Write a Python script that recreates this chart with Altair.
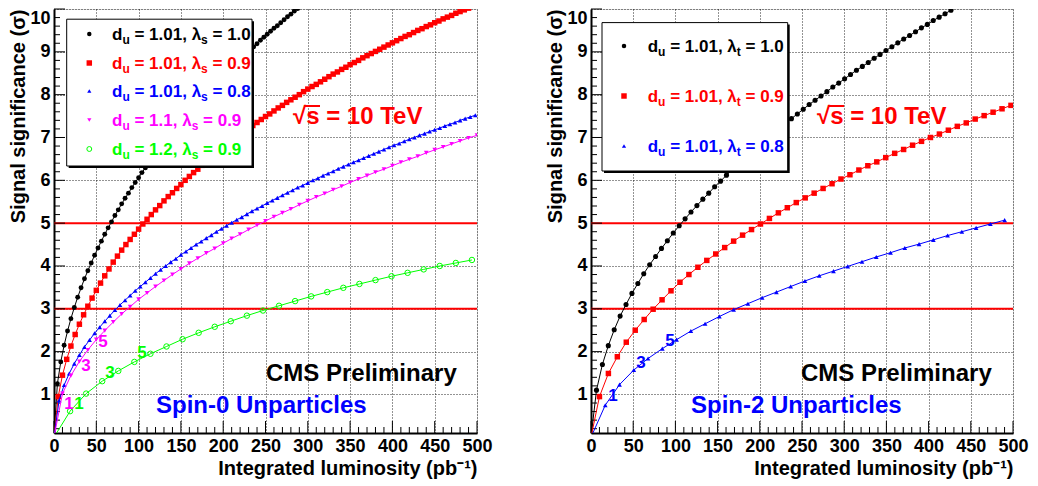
import altair as alt
import pandas as pd

FONT = "Liberation Sans"
BLACK, RED, BLUE, MAGENTA, GREEN = "#000000", "#ff0000", "#0000ff", "#ff00ff", "#00ff00"

# ---------------- Spin-0 panel (left) ----------------
L0_black = [4, 8, 12, 16, 20, 24, 28, 32, 36, 40, 44, 48, 52, 56, 60, 64, 68, 72, 76, 80,
            84, 88, 92, 96, 100, 104, 108, 112, 116, 120, 124, 128, 132, 136, 140, 144, 148, 152, 156, 160,
            164, 168, 172, 176, 180, 184, 188, 192, 196, 200, 204, 208, 212, 216, 220, 224, 228, 232, 236, 240,
            244, 248, 252, 256, 260, 264, 268, 272, 276, 280, 284, 288]
S0_black = [1.25, 1.76, 2.15, 2.48, 2.77, 3.03, 3.27, 3.49, 3.70, 3.89,
            4.07, 4.25, 4.42, 4.58, 4.74, 4.89, 5.03, 5.18, 5.31, 5.45,
            5.58, 5.70, 5.83, 5.95, 6.06, 6.18, 6.29, 6.40, 6.51, 6.62,
            6.72, 6.83, 6.93, 7.03, 7.12, 7.22, 7.32, 7.41, 7.50, 7.59,
            7.68, 7.77, 7.86, 7.94, 8.03, 8.11, 8.19, 8.28, 8.36, 8.44,
            8.52, 8.60, 8.67, 8.75, 8.83, 8.90, 8.98, 9.05, 9.12, 9.19,
            9.27, 9.34, 9.41, 9.48, 9.55, 9.61, 9.68, 9.75, 9.82, 9.88,
            9.95, 10.01]

L0_red = [5, 10, 15, 20, 25, 30, 35, 40, 45, 50, 55, 60, 65, 70, 75, 80, 85, 90, 95, 100,
          105, 110, 115, 120, 125, 130, 135, 140, 145, 150, 155, 160, 165, 170, 175, 180, 185, 190, 195, 200,
          205, 210, 215, 220, 225, 230, 235, 240, 245, 250, 255, 260, 265, 270, 275, 280, 285, 290, 295, 300,
          305, 310, 315, 320, 325, 330, 335, 340, 345, 350, 355, 360, 365, 370, 375, 380, 385, 390, 395, 400,
          405, 410, 415, 420, 425, 430, 435, 440, 445, 450, 455, 460, 465, 470, 475, 480, 485, 490]
S0_red = [0.95, 1.45, 1.82, 2.13, 2.40, 2.64, 2.86, 3.06, 3.25, 3.43,
          3.60, 3.77, 3.93, 4.09, 4.23, 4.37, 4.50, 4.62, 4.74, 4.86,
          4.98, 5.09, 5.20, 5.31, 5.41, 5.52, 5.62, 5.71, 5.81, 5.90,
          6.00, 6.09, 6.18, 6.26, 6.35, 6.43, 6.52, 6.60, 6.68, 6.76,
          6.83, 6.91, 6.99, 7.06, 7.13, 7.21, 7.28, 7.35, 7.42, 7.49,
          7.55, 7.62, 7.69, 7.75, 7.82, 7.88, 7.94, 8.00, 8.07, 8.13,
          8.19, 8.24, 8.30, 8.36, 8.42, 8.48, 8.53, 8.59, 8.64, 8.70,
          8.75, 8.80, 8.86, 8.91, 8.96, 9.01, 9.06, 9.11, 9.16, 9.21,
          9.26, 9.31, 9.36, 9.40, 9.45, 9.50, 9.54, 9.59, 9.63, 9.68,
          9.72, 9.77, 9.81, 9.85, 9.90, 9.94, 9.98, 10.02]

L0_blue = [6, 12, 18, 24, 30, 36, 42, 48, 54, 60, 66, 72, 78, 84, 90, 96, 102, 108, 114, 120,
           126, 132, 138, 144, 150, 156, 162, 168, 174, 180, 186, 192, 198, 204, 210, 216, 222, 228, 234, 240,
           246, 252, 258, 264, 270, 276, 282, 288, 294, 300, 306, 312, 318, 324, 330, 336, 342, 348, 354, 360,
           366, 372, 378, 384, 390, 396, 402, 408, 414, 420, 426, 432, 438, 444, 450, 456, 462, 468, 474, 480,
           486, 492, 498]
S0_blue = [0.86, 1.22, 1.49, 1.72, 1.92, 2.11, 2.27, 2.43, 2.57, 2.71,
           2.84, 2.97, 3.09, 3.20, 3.31, 3.42, 3.52, 3.62, 3.72, 3.82,
           3.91, 4.00, 4.09, 4.17, 4.26, 4.34, 4.42, 4.50, 4.57, 4.65,
           4.72, 4.80, 4.87, 4.94, 5.01, 5.08, 5.14, 5.21, 5.28, 5.34,
           5.40, 5.47, 5.53, 5.59, 5.65, 5.71, 5.77, 5.83, 5.88, 5.94,
           6.00, 6.05, 6.11, 6.16, 6.21, 6.27, 6.32, 6.37, 6.42, 6.47,
           6.52, 6.57, 6.62, 6.67, 6.72, 6.77, 6.82, 6.86, 6.91, 6.96,
           7.00, 7.05, 7.09, 7.14, 7.18, 7.22, 7.27, 7.31, 7.35, 7.40,
           7.44, 7.48, 7.52]

L0_magenta = [10, 20, 30, 40, 50, 60, 70, 80, 90, 100, 110, 120, 130, 140, 150, 160, 170, 180, 190, 200,
              210, 220, 230, 240, 250, 260, 270, 280, 290, 300, 310, 320, 330, 340, 350, 360, 370, 380, 390, 400,
              410, 420, 430, 440, 450, 460, 470, 480, 490, 500]
S0_magenta = [1.02, 1.44, 1.77, 2.04, 2.28, 2.49, 2.69, 2.88, 3.05, 3.22,
              3.37, 3.52, 3.66, 3.80, 3.93, 4.06, 4.18, 4.30, 4.41, 4.53,
              4.64, 4.74, 4.85, 4.95, 5.05, 5.15, 5.24, 5.33, 5.43, 5.52,
              5.61, 5.69, 5.78, 5.86, 5.95, 6.03, 6.11, 6.19, 6.26, 6.34,
              6.42, 6.49, 6.56, 6.64, 6.71, 6.78, 6.85, 6.92, 6.99, 7.05]

L0_green = [19, 38, 57, 76, 95, 114, 133, 152, 171, 190, 209, 228, 247, 266, 285, 304, 323, 342, 361, 380,
            399, 418, 437, 456, 475, 494]
S0_green = [0.61, 1.02, 1.31, 1.55, 1.76, 1.95, 2.12, 2.29, 2.44, 2.58, 2.71, 2.84, 2.96, 3.07, 3.18, 3.29,
            3.39, 3.49, 3.58, 3.67, 3.76, 3.84, 3.92, 4.00, 4.07, 4.14]

# ---------------- Spin-2 panel (right) ----------------
L2_black = [6.5, 13.5, 20.5, 27.5, 34.5, 41.5, 48.5, 55.5, 62.5, 69.5, 76.5, 83.5, 90.5, 97.5, 104.5, 111.5,
            118.5, 125.5, 132.5, 139.5, 146.5, 153.5, 160.5, 167.5, 174.5, 181.5, 188.5, 195.5, 202.5, 209.5,
            216.5, 223.5, 230.5, 237.5, 244.5, 251.5, 258.5, 265.5, 272.5, 279.5, 286.5, 293.5, 300.5, 307.5,
            314.5, 321.5, 328.5, 335.5, 342.5, 349.5, 356.5, 363.5, 370.5, 377.5, 384.5, 391.5, 398.5, 405.5,
            412.5, 419.5, 426.5, 433.5]
S2_black = [1.10, 1.70, 2.14, 2.51, 2.83, 3.10, 3.36, 3.59, 3.82, 4.03,
            4.22, 4.41, 4.59, 4.77, 4.94, 5.10, 5.26, 5.41, 5.56, 5.70,
            5.85, 5.98, 6.12, 6.25, 6.38, 6.51, 6.63, 6.75, 6.87, 6.99,
            7.11, 7.22, 7.33, 7.44, 7.55, 7.66, 7.77, 7.87, 7.97, 8.07,
            8.18, 8.27, 8.37, 8.47, 8.57, 8.66, 8.75, 8.85, 8.94, 9.03,
            9.12, 9.21, 9.30, 9.38, 9.47, 9.56, 9.64, 9.73, 9.81, 9.89,
            9.97, 10.06]

L2_red = [10.0, 20.6, 31.2, 41.8, 52.4, 63.0, 73.6, 84.2, 94.8, 105.4, 116.0, 126.6, 137.2, 147.8, 158.4,
          169.0, 179.6, 190.2, 200.8, 211.4, 222.0, 232.6, 243.2, 253.8, 264.4, 275.0, 285.6, 296.2, 306.8,
          317.4, 328.0, 338.6, 349.2, 359.8, 370.4, 381.0, 391.6, 402.2, 412.8, 423.4, 434.0, 444.6, 455.2,
          465.8, 476.4, 487.0, 497.6]
S2_red = [0.95, 1.49, 1.88, 2.22, 2.50, 2.75, 2.99, 3.21, 3.42, 3.62,
          3.80, 3.97, 4.13, 4.28, 4.43, 4.58, 4.72, 4.85, 4.98, 5.11,
          5.24, 5.36, 5.48, 5.59, 5.70, 5.81, 5.92, 6.03, 6.13, 6.24,
          6.34, 6.43, 6.53, 6.63, 6.72, 6.82, 6.91, 7.00, 7.08, 7.17,
          7.26, 7.34, 7.43, 7.51, 7.59, 7.67, 7.75]

L2_blue = [16.9, 33.8, 50.7, 67.6, 84.5, 101.4, 118.3, 135.2, 152.1, 169.0, 185.9, 202.8, 219.7, 236.6,
           253.5, 270.4, 287.3, 304.2, 321.1, 338.0, 354.9, 371.8, 388.7, 405.6, 422.5, 439.4, 456.3, 473.2,
           490.1]
S2_blue = [0.75, 1.23, 1.57, 1.84, 2.07, 2.28, 2.48, 2.65, 2.82, 2.98,
           3.12, 3.26, 3.39, 3.52, 3.65, 3.77, 3.88, 3.99, 4.10, 4.21,
           4.31, 4.42, 4.51, 4.61, 4.71, 4.80, 4.89, 4.98, 5.07]

# ---------------- axes / reference lines ----------------
X_TICKS = [0, 50, 100, 150, 200, 250, 300, 350, 400, 450, 500]
X_MINOR = [v for v in range(10, 500, 10) if v % 50]
Y_TICKS = [1, 2, 3, 4, 5, 6, 7, 8, 9, 10]
Y_MINOR = [round(v * 0.2, 1) for v in range(1, 50) if v % 5]
SIG_LINES = [3, 5]

# small numeric annotations along the curves (value, L, S, colour)
NUMS_LEFT = [("1", 17.7, 0.78, MAGENTA), ("1", 29.5, 0.78, GREEN),
             ("3", 37.8, 1.66, MAGENTA), ("3", 66.2, 1.50, GREEN),
             ("5", 57.9, 2.22, MAGENTA), ("5", 104.0, 1.97, GREEN)]
NUMS_RIGHT = [("1", 26.0, 0.96, BLUE), ("3", 59.2, 1.73, BLUE), ("5", 93.6, 2.24, BLUE)]

H = 424
x_scale = alt.Scale(domain=[0, 500], nice=False, zero=False)
y_scale = alt.Scale(domain=[0.1, 10], nice=False, zero=False)

common_axis = dict(grid=True, gridColor="black", gridDash=[1, 2], gridWidth=1, gridOpacity=0.85,
                   ticks=False, domainColor="black", domainWidth=2,
                   labelFont=FONT, labelFontSize=18, labelFontWeight="bold", labelColor="black",
                   labelPadding=4, labelOverlap=False,
                   titleFont=FONT, titleFontSize=20, titleFontWeight="bold", titleColor="black",
                   titleAnchor="end")
x_axis = alt.Axis(values=X_TICKS, title="Integrated luminosity (pb⁻¹)", titlePadding=3,
                  labelFlush=False, **common_axis)
y_axis = alt.Axis(values=Y_TICKS, title="Signal significance (σ)", titlePadding=1,
                  labelFlush=True, labelFlushOffset=0, **common_axis)


def X(f="L"):
    return alt.X(f"{f}:Q", scale=x_scale, axis=x_axis)


def Y(f="S"):
    return alt.Y(f"{f}:Q", scale=y_scale, axis=y_axis)


ONE = alt.Data(values=[{"a": 1}])

# Arial/Liberation Sans Bold advance widths (per 1000 em)
CW = {"d": 611, "u": 611, "s": 556, "t": 333, "=": 584, " ": 278, ".": 278, ",": 278, "λ": 556}


def tw(text, fs):
    return sum(CW.get(c, 556) for c in text) * fs / 1000.0


def txt(s, x, y, color, fs, align="left", baseline="alphabetic"):
    return alt.Chart(ONE).mark_text(text=s, font=FONT, fontWeight="bold", fontSize=fs, color=color,
                                    align=align, baseline=baseline).encode(x=alt.value(x), y=alt.value(y))


def legend_entry(x_mark, x_text, y_row, du, lam_sub, lam_val, color, shape, filled, msize):
    fs, sfs = 17, 12
    yb = y_row + 6
    layers = [alt.Chart(ONE).mark_point(shape=shape, filled=filled, size=msize, color=color, opacity=1,
                                        strokeWidth=1).encode(x=alt.value(x_mark), y=alt.value(y_row))]
    x = x_text
    layers.append(txt("d", x, yb, color, fs))
    x += tw("d", fs)
    layers.append(txt("u", x, yb + 4, color, sfs))
    x += tw("u", sfs) + tw(" ", fs)
    mid = f"= {du}, λ"
    layers.append(txt(mid, x, yb, color, fs))
    x += tw(mid, fs)
    layers.append(txt(lam_sub, x, yb + 4, color, sfs))
    x += tw(lam_sub, sfs) + tw(" ", fs)
    layers.append(txt(f"= {lam_val}", x, yb, color, fs))
    return layers


def series_layers(L, S, color, shape, filled, size):
    pts = pd.DataFrame({"L": L, "S": S})
    line_df = pd.concat([pd.DataFrame({"L": [0.0], "S": [0.0]}), pts], ignore_index=True)
    line = alt.Chart(line_df).mark_line(color=color, strokeWidth=1, clip=True).encode(x=X(), y=Y())
    mk = alt.Chart(pts).mark_point(shape=shape, filled=filled, size=size, color=color, opacity=1,
                                   strokeWidth=1, clip=True).encode(x=X(), y=Y())
    return [line, mk]


def tick_layers():
    ym = alt.Chart(pd.DataFrame({"S": Y_TICKS})).mark_rule(color="black", strokeWidth=1).encode(
        y=Y(), x=alt.value(0), x2=alt.value(11))
    yn = alt.Chart(pd.DataFrame({"S": Y_MINOR})).mark_rule(color="black", strokeWidth=1).encode(
        y=Y(), x=alt.value(0), x2=alt.value(6))
    xm = alt.Chart(pd.DataFrame({"L": X_TICKS})).mark_rule(color="black", strokeWidth=1).encode(
        x=X(), y=alt.value(H), y2=alt.value(H - 12))
    xn = alt.Chart(pd.DataFrame({"L": X_MINOR})).mark_rule(color="black", strokeWidth=1).encode(
        x=X(), y=alt.value(H), y2=alt.value(H - 6))
    return [ym, yn, xm, xn]


def panel(width, series, legend_box, legend_rows, legend_xs, entries, nums, sqrt_x, cms_x, spin_x, spin_text):
    layers = []
    layers.append(alt.Chart(pd.DataFrame({"S": SIG_LINES})).mark_rule(color=RED, strokeWidth=2).encode(y=Y()))
    layers += tick_layers()
    for s in series:
        layers += series_layers(*s)
    x0, x1, y0, y1 = legend_box
    layers.append(alt.Chart(ONE).mark_rect(fill="black").encode(
        x=alt.value(x0 + 2), x2=alt.value(x1 + 2), y=alt.value(y0 + 2), y2=alt.value(y1 + 2)))
    layers.append(alt.Chart(ONE).mark_rect(fill="white", stroke="black", strokeWidth=1).encode(
        x=alt.value(x0), x2=alt.value(x1), y=alt.value(y0), y2=alt.value(y1)))
    for yr, e in zip(legend_rows, entries):
        layers += legend_entry(legend_xs[0], legend_xs[1], yr, *e)
    for s, lv, sv, col in nums:
        layers.append(alt.Chart(ONE).mark_text(text=s, font=FONT, fontWeight="bold", fontSize=17, color=col,
                                               align="center", baseline="middle").encode(
            x=alt.datum(lv), y=alt.datum(sv)))
    layers.append(txt("√s = 10 TeV", sqrt_x, 115, RED, 24))
    layers.append(alt.Chart(ONE).mark_rule(color=RED, strokeWidth=2).encode(
        x=alt.value(sqrt_x + 12), x2=alt.value(sqrt_x + 27), y=alt.value(97)))
    layers.append(txt("CMS Preliminary", cms_x, 372, BLACK, 24))
    layers.append(txt(spin_text, spin_x, 404, BLUE, 24))
    return alt.layer(*layers).properties(width=width, height=H)


left = panel(
    423,
    [(L0_black, S0_black, BLACK, "circle", True, 24),
     (L0_red, S0_red, RED, "square", True, 30),
     (L0_blue, S0_blue, BLUE, "triangle-up", True, 22),
     (L0_magenta, S0_magenta, MAGENTA, "triangle-down", True, 22),
     (L0_green, S0_green, GREEN, "circle", False, 30)],
    (12.7, 198, 10.2, 157), [25, 54, 82, 111, 140], (35.3, 58),
    [("1.01", "s", "1.0", BLACK, "circle", True, 20),
     ("1.01", "s", "0.9", RED, "square", True, 30),
     ("1.01", "s", "0.8", BLUE, "triangle-up", True, 18),
     ("1.1", "s", "0.9", MAGENTA, "triangle-down", True, 18),
     ("1.2", "s", "0.9", GREEN, "circle", False, 24)],
    NUMS_LEFT, 239, 212, 102, "Spin-0 Unparticles")

right = panel(
    422,
    [(L2_black, S2_black, BLACK, "circle", True, 26),
     (L2_red, S2_red, RED, "square", True, 30),
     (L2_blue, S2_blue, BLUE, "triangle-up", True, 22)],
    (11, 196.7, 13.6, 162), [37, 87, 137], (33, 56.7),
    [("1.01", "t", "1.0", BLACK, "circle", True, 20),
     ("1.01", "t", "0.9", RED, "square", True, 30),
     ("1.01", "t", "0.8", BLUE, "triangle-up", True, 18)],
    NUMS_RIGHT, 226, 210, 100, "Spin-2 Unparticles")

chart = alt.hconcat(left, right, spacing=114, bounds="flush").properties(
    padding={"left": 0, "top": 0, "right": 0, "bottom": 0},
    background="white",
).configure_view(stroke="black", strokeWidth=2).configure(font=FONT)

chart.save("out.html", embed_options={"renderer": "svg", "actions": False})
